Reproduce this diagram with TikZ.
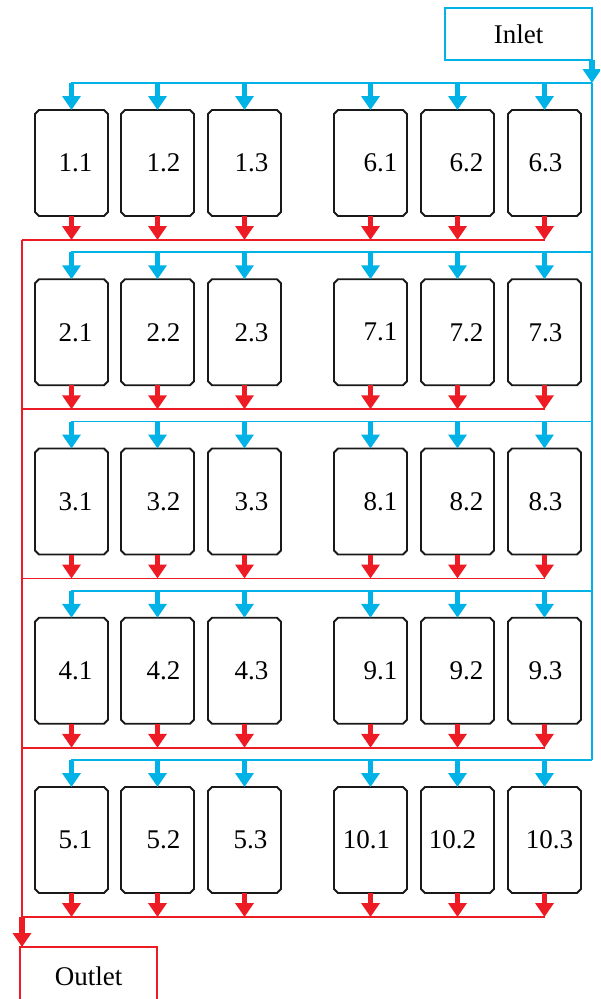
\documentclass[tikz,border=0pt]{standalone}
\usepackage{fontspec}
\setmainfont{Liberation Serif}
\usetikzlibrary{arrows.meta}
\definecolor{inblue}{RGB}{0,178,230}
\definecolor{outred}{RGB}{237,28,36}
\tikzset{
  cell/.style={rectangle, draw=none, minimum width=73pt, minimum height=106pt, inner sep=0pt, outer sep=0pt},
  cellline/.style={draw=black!90, line width=1.9pt, line join=miter},
  num/.style={font=\fontsize{27}{30}\selectfont, inner sep=0pt},
  bline/.style={draw=inblue, line width=1.6pt},
  rline/.style={draw=outred, line width=1.6pt},
  barrow/.style={draw=inblue, line width=5.5pt, -{Triangle[width=18pt,length=14pt]}},
  rarrow/.style={draw=outred, line width=5.5pt, -{Triangle[width=18pt,length=14pt]}},
  portbox/.style={line width=1.6pt, outer sep=0pt, inner sep=0pt, font=\fontsize{27}{30}\selectfont}
}
\newcommand\cellframe[1]{%
  \draw[cellline] ([xshift=4pt]#1.north west) -- ([xshift=-4pt]#1.north east)
    -- ([yshift=-4pt]#1.north east) -- ([yshift=4pt]#1.south east)
    -- ([xshift=-4pt]#1.south east) -- ([xshift=4pt]#1.south west)
    -- ([yshift=4pt]#1.south west) -- ([yshift=-4pt]#1.north west) -- cycle;}
\begin{document}
\begin{tikzpicture}[x=1pt,y=-1pt]
\clip (0,0) rectangle (600,999);
\node[portbox, draw=inblue, minimum width=147pt, minimum height=52pt] (inlet) at (518.5,34) {Inlet};
\node[portbox, draw=outred, minimum width=137pt, minimum height=58pt] (outlet) at (88.5,976) {Outlet};
\foreach \r in {1,...,5}{
  \pgfmathsetmacro\yt{110+(\r-1)*169.25}
  \pgfmathsetmacro\yb{\yt-27}
  \pgfmathsetmacro\yr{\yt+106+24}
  \coordinate (bl-\r) at (71,\yb);
  \coordinate (br-\r) at (592,\yb);
  \coordinate (rl-\r) at (22,\yr);
  \coordinate (rr-\r) at (545,\yr);
  \draw[bline] (bl-\r) -- (br-\r);
  \draw[rline] (rl-\r) -- (rr-\r);
  \foreach \x/\c/\o/\p in {71.5/1/4/4, 157.5/2/6/6, 244.5/3/7/6, 370.5/4/10/-4, 457.5/5/9/-5, 544.5/6/1/5}{
    \pgfmathtruncatemacro\rr{\c>3 ? \r+5 : \r}
    \pgfmathtruncatemacro\cc{\c>3 ? \c-3 : \c}
    \pgfmathsetmacro\off{\r==5 ? \p : \o}
    \node[cell] (b-\r-\c) at (\x,\yt+53) {};
    \cellframe{b-\r-\c}
    \node[num] (t-\r-\c) at ([xshift=\off pt]b-\r-\c.center) {\rr.\cc};
    \draw[barrow] (b-\r-\c.north |- bl-\r) -- (b-\r-\c.north);
    \draw[rarrow] (b-\r-\c.south) -- (b-\r-\c.south |- rl-\r);
  }
}
\draw[barrow] (br-1 |- inlet.south) -- (br-1);
\draw[bline] (br-1) -- (br-5);
\draw[rline] (rl-1) -- (rl-5);
\draw[rarrow] (rl-5) -- (rl-5 |- outlet.north);
\end{tikzpicture}
\end{document}
